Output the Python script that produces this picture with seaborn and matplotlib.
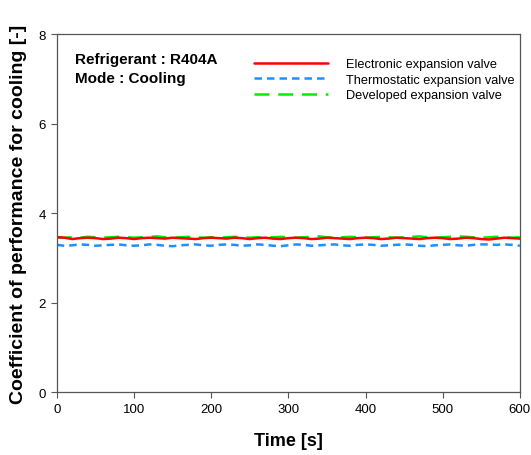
import numpy as np
import pandas as pd
import seaborn as sns
import matplotlib.pyplot as plt
from matplotlib.lines import Line2D

sns.set_style("ticks")
plt.rcParams['font.family'] = ['Liberation Sans', 'DejaVu Sans']
plt.rcParams['text.color'] = 'black'
plt.rcParams['axes.labelcolor'] = 'black'
plt.rcParams['xtick.labelcolor'] = 'black'
plt.rcParams['ytick.labelcolor'] = 'black'

# Time axis (s) and COP readings for the three valve types
time_s = list(range(0, 601, 10))
cop_electronic = [3.46, 3.45, 3.42, 3.44, 3.45, 3.44, 3.42, 3.43, 3.45, 3.44,
                  3.42, 3.44, 3.45, 3.44, 3.43, 3.45, 3.44, 3.43, 3.42, 3.44,
                  3.45, 3.44, 3.43, 3.45, 3.44, 3.42, 3.44, 3.45, 3.43, 3.42,
                  3.44, 3.45, 3.44, 3.42, 3.43, 3.45, 3.44, 3.43, 3.42, 3.44,
                  3.45, 3.44, 3.42, 3.43, 3.45, 3.44, 3.43, 3.42, 3.44, 3.45,
                  3.44, 3.42, 3.43, 3.45, 3.44, 3.42, 3.41, 3.43, 3.45, 3.44,
                  3.43]
cop_thermostatic = [3.29, 3.27, 3.28, 3.30, 3.29, 3.27, 3.28, 3.29, 3.30, 3.28,
                    3.27, 3.28, 3.30, 3.29, 3.27, 3.26, 3.28, 3.29, 3.30, 3.28,
                    3.27, 3.29, 3.30, 3.29, 3.27, 3.28, 3.30, 3.29, 3.27, 3.26,
                    3.28, 3.30, 3.29, 3.27, 3.28, 3.29, 3.30, 3.28, 3.27, 3.29,
                    3.30, 3.29, 3.27, 3.28, 3.29, 3.30, 3.29, 3.27, 3.26, 3.28,
                    3.29, 3.30, 3.28, 3.27, 3.29, 3.30, 3.30, 3.29, 3.30, 3.29,
                    3.27]
cop_developed = [3.46, 3.45, 3.46, 3.45, 3.47, 3.46, 3.45, 3.46, 3.47, 3.46,
                 3.45, 3.46, 3.47, 3.48, 3.46, 3.45, 3.46, 3.47, 3.46, 3.45,
                 3.46, 3.45, 3.46, 3.47, 3.46, 3.45, 3.46, 3.45, 3.46, 3.47,
                 3.46, 3.45, 3.46, 3.47, 3.48, 3.46, 3.45, 3.46, 3.47, 3.46,
                 3.45, 3.46, 3.47, 3.46, 3.45, 3.46, 3.47, 3.48, 3.46, 3.45,
                 3.46, 3.47, 3.48, 3.47, 3.46, 3.45, 3.46, 3.47, 3.46, 3.45,
                 3.46]

labels = ["Electronic expansion valve", "Thermostatic expansion valve",
          "Developed expansion valve"]
colors = ["#ff0000", "#1e8fff", "#00ee00"]
dashes = [(None, None), (3, 2), (6, 3.5)]

df = pd.DataFrame({"time": time_s,
                   labels[0]: cop_electronic,
                   labels[1]: cop_thermostatic,
                   labels[2]: cop_developed})
long_df = df.melt(id_vars="time", var_name="valve", value_name="cop")

fig = plt.figure(figsize=(5.31, 4.56), dpi=100)
ax = fig.add_axes([0.107, 0.138, 0.872, 0.785])

draw_order = [labels[1], labels[2], labels[0]]
for name in draw_order:
    i = labels.index(name)
    sub = long_df[long_df["valve"] == name]
    sns.lineplot(data=sub, x="time", y="cop", ax=ax, color=colors[i],
                 linewidth=1.8, legend=False)
    ln = ax.lines[-1]
    if dashes[i][0] is not None:
        ln.set_dashes(dashes[i])

ax.set_xlim(0, 600)
ax.set_ylim(0, 8)
ax.set_xticks(range(0, 601, 100))
ax.set_yticks(range(0, 9, 2))
ax.tick_params(axis="both", labelsize=9.5, length=4, width=0.8, color="#555555",
               direction="out", pad=4)
for sp in ax.spines.values():
    sp.set_visible(True)
    sp.set_color("#555555")
    sp.set_linewidth(0.9)

ax.set_xlabel("Time [s]", fontsize=13, fontweight="bold", labelpad=12)
ax.set_ylabel("Coefficient of performance for cooling [-]", fontsize=14,
              fontweight="bold", labelpad=8)

ax.text(0.04, 0.95, "Refrigerant : R404A\nMode : Cooling",
        transform=ax.transAxes, fontsize=11, fontweight="bold",
        va="top", ha="left", linespacing=1.45)

handles = [Line2D([], [], color=colors[i], linewidth=1.8,
                  dashes=dashes[i] if dashes[i][0] is not None else (None, None))
           for i in range(3)]
ax.legend(handles, labels, loc="upper left", bbox_to_anchor=(0.4, 0.965),
          frameon=False, fontsize=9.2, handlelength=5.8, handletextpad=1.4,
          labelspacing=0.28)

fig.savefig("out.png", dpi=100)
